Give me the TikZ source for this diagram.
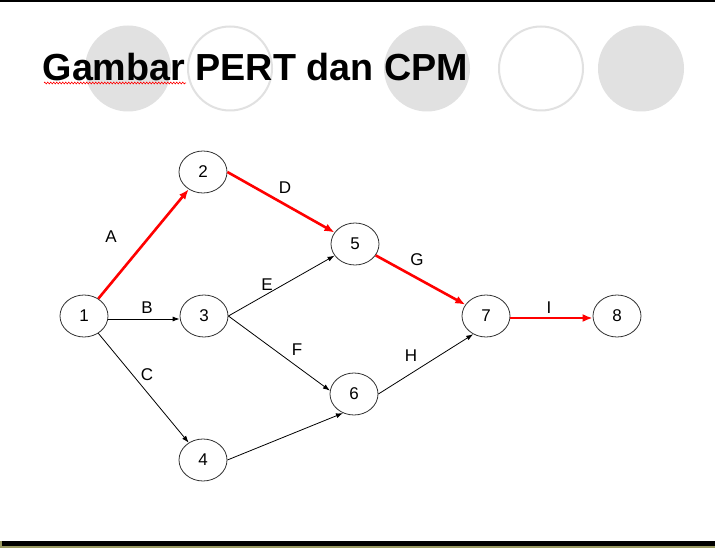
\documentclass[tikz,border=0pt]{standalone}
\usepackage{fontspec}
\setmainfont{Liberation Sans}
\usetikzlibrary{shapes.geometric,arrows.meta,decorations.pathmorphing}
\definecolor{decogray}{HTML}{E1E1E1}
\definecolor{olivebar}{HTML}{9A9A62}
\definecolor{ovalline}{HTML}{333333}
\tikzset{
  evnode/.style={ellipse,draw=ovalline,line width=0.8pt,minimum width=48pt,minimum height=42pt,inner sep=0pt,font=\fontsize{17}{19}\selectfont},
  actlabel/.style={font=\fontsize{17}{19}\selectfont,inner sep=0pt},
  normalarrow/.style={draw=black,line width=0.8pt,-{Latex[length=7pt,width=5pt]}},
  critarrow/.style={draw=red,line width=2.6pt,-{Latex[length=10pt,width=8pt]}},
  fillcirc/.style={fill=decogray,draw=none},
  ringcirc/.style={draw=decogray,line width=2pt,fill=white}
}
\begin{document}
\begin{tikzpicture}[x=1pt,y=-1pt]
\useasboundingbox (0,0) rectangle (715,548);
\fill[white] (0,0) rectangle (715,548);
% top line
\fill[black] (0,0) rectangle (715,1.8);
% bottom bars
\fill[black] (0,541) rectangle (715,546);
\fill[olivebar] (0,546) rectangle (715,548);
\fill[olivebar] (0,541) rectangle (2,546);
% decorative circles
\path[fillcirc] (128,68.5) circle[radius=43];
\path[ringcirc] (230,68.5) circle[radius=42];
\path[fillcirc] (427,68.5) circle[radius=43];
\path[ringcirc] (541,68.5) circle[radius=42];
\path[fillcirc] (641,68.5) circle[radius=43];
% title
\node[anchor=base west,inner sep=0pt,font=\fontsize{37.7}{40}\selectfont\bfseries] (title) at (42.5,81) {Gambar PERT dan CPM};
\coordinate (sqa) at (44,83);
\coordinate (sqb) at (186,83);
\draw[red,line width=0.6pt,decorate,decoration={zigzag,segment length=3pt,amplitude=0.9pt}] (sqa) -- (sqb);
% event nodes
\node[evnode] (n1) at (84,316) {1};
\node[evnode] (n2) at (203,172) {2};
\node[evnode] (n3) at (204,316) {3};
\node[evnode] (n4) at (203,460) {4};
\node[evnode] (n5) at (355,244) {5};
\node[evnode] (n6) at (354,394) {6};
\node[evnode] (n7) at (486,316) {7};
\node[evnode] (n8) at (617,316) {8};
% activities
\draw[critarrow] (n1) -- (n2);
\draw[critarrow] (n2.east) -- (n5);
\draw[critarrow] (n5) -- (n7);
\draw[critarrow] ([yshift=-2pt]n7.east) -- ([yshift=-2pt]n8.west);
\draw[normalarrow] ([yshift=-3pt]n1.east) -- ([yshift=-3pt]n3.west);
\draw[normalarrow] (n1) -- (n4);
\draw[normalarrow] (n3.east) -- (n5);
\draw[normalarrow] (n3.east) -- (n6.172);
\draw[normalarrow] (n4.east) -- (n6.240);
\draw[normalarrow] (n6.east) -- (n7.235);
% labels
\node[actlabel] (lA) at (111,237) {A};
\node[actlabel] (lB) at (147,308) {B};
\node[actlabel] (lC) at (147,375) {C};
\node[actlabel] (lD) at (285,188) {D};
\node[actlabel] (lE) at (267,285) {E};
\node[actlabel] (lF) at (297,350) {F};
\node[actlabel] (lG) at (417,260) {G};
\node[actlabel] (lH) at (411,356) {H};
\node[actlabel] (lI) at (549,308) {I};
\end{tikzpicture}
\end{document}
